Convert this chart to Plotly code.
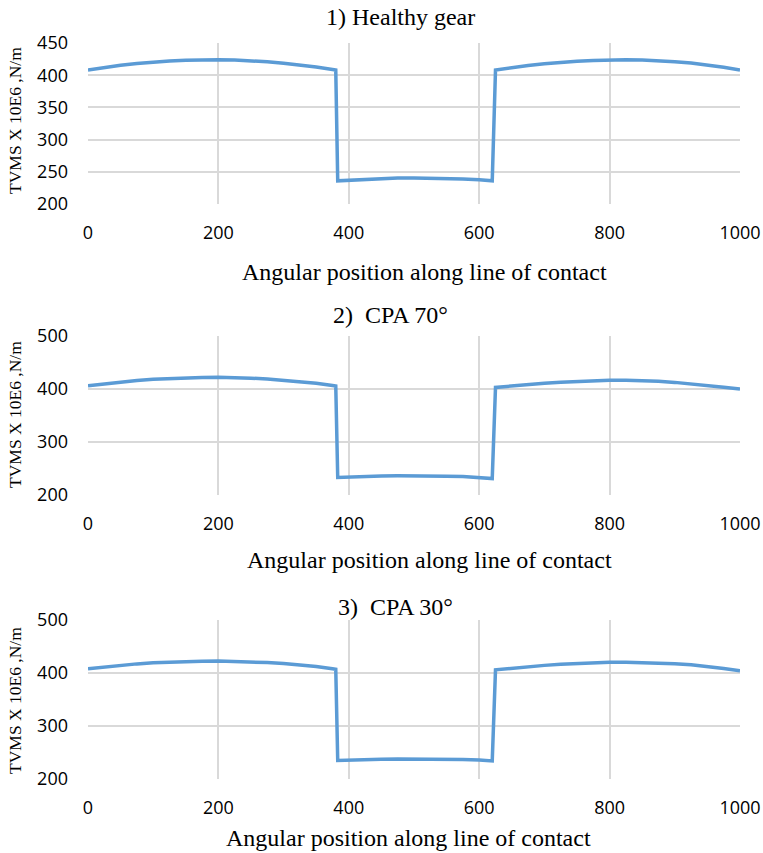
import plotly.graph_objects as go

# ---- data ----
x_pos = [0, 25, 50, 75, 100, 125, 150, 175, 200, 225, 250, 275, 300, 325, 350, 375,
         380, 383,
         400, 425, 450, 475, 500, 525, 550, 575, 600,
         620, 625,
         650, 675, 700, 725, 750, 775, 800, 825, 850, 875, 900, 925, 950, 975, 1000]

healthy = [408, 411.9, 415.3, 418.1, 420.4, 422.1, 423.3, 423.9, 424, 423.5, 422.4, 420.8, 418.6, 415.9, 412.7, 408.8,
           408, 236,
           237, 238.5, 239.5, 240.3, 240.5, 240.3, 239.8, 239, 237.8,
           236, 408,
           411.8, 415, 417.8, 420, 421.8, 423, 423.8, 424, 423.6, 422.6, 421, 418.8, 416, 412.4, 408]
cpa70 = [406, 409.9, 413.3, 416.1, 418.4, 420.1, 421.3, 421.9, 422, 421.5, 420.4, 418.8, 416.6, 413.9, 410.7, 406.5,
         405.5, 233,
         234, 235, 235.7, 236.1, 236.2, 236, 235.5, 234.7, 233.5,
         231, 403,
         406, 408.6, 410.8, 412.6, 414.3, 415.5, 416.3, 416.4, 415.8, 414.5, 412.5, 409.8, 406.8, 403.5, 400]
cpa30 = [408, 411.6, 414.7, 417.2, 419.3, 420.8, 421.9, 422.4, 422.5, 422.1, 421.1, 419.7, 417.7, 415.3, 412.4, 408,
         407, 235,
         236, 236.9, 237.5, 237.9, 238, 237.9, 237.5, 236.8, 235.8,
         234, 406,
         409.2, 412, 414.4, 416.4, 418.2, 419.4, 420.3, 420.5, 420, 419, 417.5, 415.5, 412.8, 408.6, 404]

titles = ["1) Healthy gear", "2)  CPA 70°", "3)  CPA 30°"]
series = [healthy, cpa70, cpa30]
y_ranges = [[200, 450], [200, 500], [200, 500]]
y_dticks = [50, 100, 100]
x_ticks = [0, 200, 400, 600, 800, 1000]
x_title = "Angular position along line of contact"
y_title = "TVMS X 10E6 ,N/m"

# ---- layout (pixels) ----
W, H = 763, 853
x_left, x_right = 88, 740
panels = [  # top px, bottom px, title (x,y), xtitle (x,y), ytitle y
    dict(top=43, bot=204, tx=400, ty=17, xtx=424, xty=272, yty=121),
    dict(top=336, bot=495, tx=390, ty=315, xtx=429, xty=560, yty=415),
    dict(top=620, bot=779, tx=395, ty=607, xtx=408, xty=838, yty=701),
]

LINE = "#5B9BD5"
GRID = "#D9D9D9"
SERIF = "Liberation Serif, Times New Roman, serif"
SANS = "Open Sans, Liberation Sans, sans-serif"

fig = go.Figure()
annotations = []
layout_axes = {}
for i, (ys, p) in enumerate(zip(series, panels)):
    n = "" if i == 0 else str(i + 1)
    fig.add_trace(go.Scatter(x=x_pos, y=ys, mode="lines",
                             line=dict(color=LINE, width=3.5),
                             xaxis="x" + n, yaxis="y" + n, showlegend=False,
                             hoverinfo="x+y"))
    layout_axes["xaxis" + n] = dict(
        domain=[x_left / W, x_right / W], range=[0, 1000], tickvals=x_ticks,
        showgrid=True, gridcolor=GRID, gridwidth=2, zeroline=False, showline=False,
        tickfont=dict(family=SANS, size=18, color="#000"), ticklabelstandoff=16,
        anchor="y" + n, fixedrange=True, automargin=False)
    layout_axes["yaxis" + n] = dict(
        domain=[1 - p["bot"] / H, 1 - p["top"] / H], range=y_ranges[i], dtick=y_dticks[i],
        showgrid=True, gridcolor=GRID, gridwidth=2, zeroline=False, showline=False,
        tickfont=dict(family=SANS, size=18, color="#000"), ticklabelstandoff=19,
        anchor="x" + n, fixedrange=True, automargin=False)
    annotations.append(dict(text=titles[i], x=p["tx"] / W, y=1 - p["ty"] / H,
                            xref="paper", yref="paper", showarrow=False,
                            xanchor="center", yanchor="middle",
                            font=dict(family=SERIF, size=24, color="#000")))
    annotations.append(dict(text=x_title, x=p["xtx"] / W, y=1 - p["xty"] / H,
                            xref="paper", yref="paper", showarrow=False,
                            xanchor="center", yanchor="middle",
                            font=dict(family=SERIF, size=24, color="#000")))
    annotations.append(dict(text=y_title, x=15 / W, y=1 - p["yty"] / H,
                            xref="paper", yref="paper", showarrow=False, textangle=-90,
                            xanchor="center", yanchor="middle",
                            font=dict(family=SERIF, size=17.5, color="#000")))

fig.update_layout(width=W, height=H, margin=dict(l=0, r=0, t=0, b=0),
                  paper_bgcolor="white", plot_bgcolor="white",
                  annotations=annotations, **layout_axes)

fig.write_html("out.html", config={"displayModeBar": False},
               post_script="document.body.style.margin='0';document.body.style.padding='0';"
                           "document.body.style.overflow='hidden';")
